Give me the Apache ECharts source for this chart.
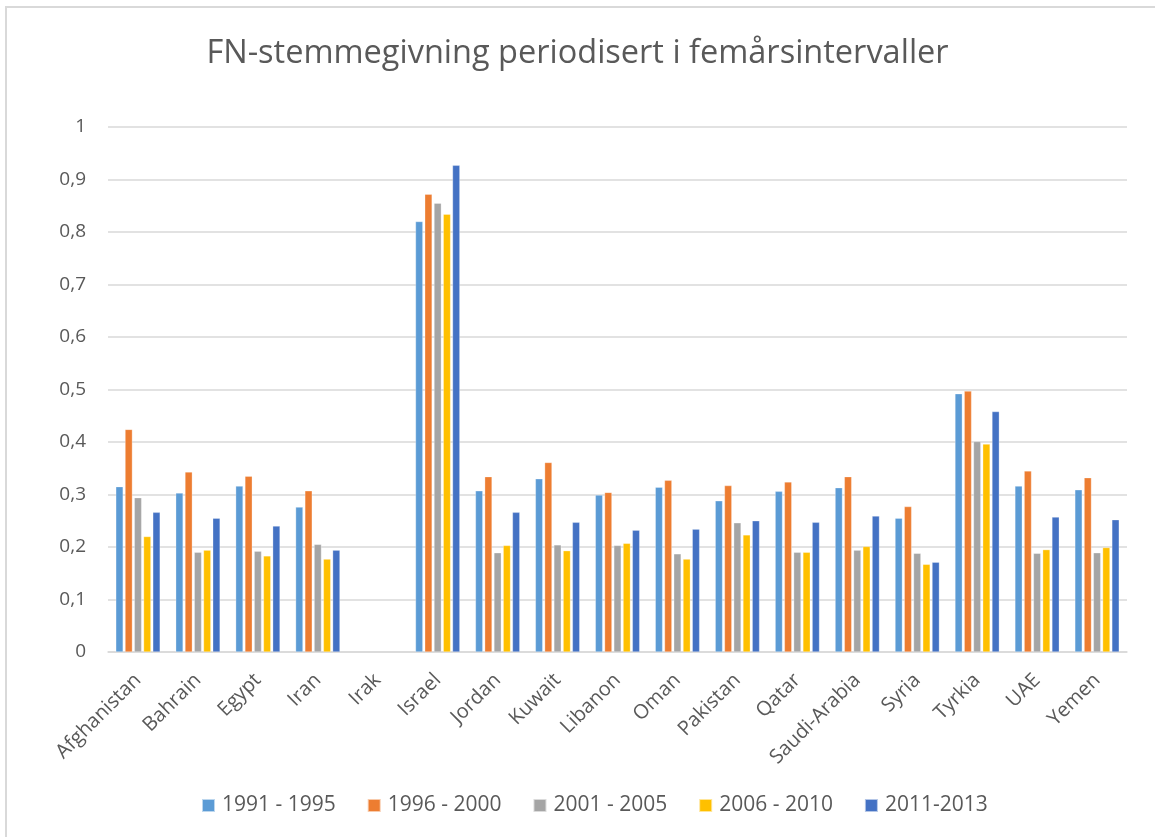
<!DOCTYPE html>
<html>
<head>
<meta charset="utf-8">
<script src="https://cdn.jsdelivr.net/npm/echarts@6/dist/echarts.min.js"></script>
<style>
  html, body { margin: 0; padding: 0; background: #fff; }
  #frame { position: absolute; left: 5px; top: 6px; width: 1160px; height: 840px; border: 2px solid #d9d9d9; }
  #chart { position: absolute; left: 0; top: 0; width: 1155px; height: 837px; }
</style>
</head>
<body>
<div id="frame"></div>
<div id="chart"></div>
<script>
// countries on the x axis
const countries = ['Afghanistan', 'Bahrain', 'Egypt', 'Iran', 'Irak', 'Israel', 'Jordan', 'Kuwait',
  'Libanon', 'Oman', 'Pakistan', 'Qatar', 'Saudi-Arabia', 'Syria', 'Tyrkia', 'UAE', 'Yemen'];

// one array per period (Irak has no data)
const p1991_1995 = [0.315, 0.303, 0.316, 0.276, null, 0.820, 0.307, 0.330, 0.299, 0.314, 0.288, 0.306, 0.313, 0.255, 0.492, 0.316, 0.309];
const p1996_2000 = [0.424, 0.343, 0.335, 0.307, null, 0.872, 0.334, 0.361, 0.304, 0.327, 0.317, 0.324, 0.334, 0.277, 0.497, 0.345, 0.332];
const p2001_2005 = [0.294, 0.190, 0.192, 0.205, null, 0.855, 0.189, 0.204, 0.203, 0.187, 0.246, 0.190, 0.194, 0.188, 0.401, 0.188, 0.189];
const p2006_2010 = [0.220, 0.194, 0.183, 0.177, null, 0.834, 0.203, 0.193, 0.207, 0.177, 0.223, 0.190, 0.201, 0.167, 0.396, 0.195, 0.199];
const p2011_2013 = [0.266, 0.255, 0.240, 0.194, null, 0.927, 0.266, 0.247, 0.232, 0.234, 0.250, 0.247, 0.259, 0.171, 0.458, 0.257, 0.252];

const periodNames = ['1991 - 1995', '1996 - 2000', '2001 - 2005', '2006 - 2010', '2011-2013'];
const periodData = [p1991_1995, p1996_2000, p2001_2005, p2006_2010, p2011_2013];
const colors = ['#5B9BD5', '#ED7D31', '#A5A5A5', '#FFC000', '#4472C4'];

const font = '"Open Sans", sans-serif';
const txt = '#595959';

var chart = echarts.init(document.getElementById('chart'));

var series = periodNames.map(function (name, i) {
  return {
    name: name,
    type: 'bar',
    data: periodData[i],
    barGap: '26%',
    barCategoryGap: '26%',
    itemStyle: { color: colors[i], borderColor: 'rgba(255,255,255,0.6)', borderWidth: 0.5 }
  };
});

chart.setOption({
  animation: false,
  color: colors,
  title: {
    text: 'FN-stemmegivning periodisert i femårsintervaller',
    left: 'center',
    top: 32,
    textStyle: { fontFamily: font, fontSize: 32.5, fontWeight: 'normal', color: txt }
  },
  legend: {
    data: periodNames,
    left: 196,
    top: 790,
    itemWidth: 13,
    itemHeight: 13,
    itemGap: 31,
    icon: 'rect',
    textStyle: { fontFamily: font, fontSize: 21, color: txt, padding: [0, 0, 0, 2] }
  },
  grid: { left: 108, right: 28, top: 127, bottom: 185, containLabel: false },
  xAxis: {
    type: 'category',
    data: countries,
    axisLine: { lineStyle: { color: '#d9d9d9', width: 1.5 } },
    axisTick: { show: false },
    axisLabel: { rotate: 45, margin: 25, fontFamily: font, fontSize: 20, color: txt, interval: 0 }
  },
  yAxis: {
    type: 'value',
    min: 0,
    max: 1,
    interval: 0.1,
    axisLine: { show: false },
    axisTick: { show: false },
    splitLine: { lineStyle: { color: '#d9d9d9', width: 1.5 } },
    axisLabel: {
      margin: 22,
      fontFamily: font,
      fontSize: 19,
      color: txt,
      formatter: function (v) {
        if (v === 0 || v === 1) return String(v);
        return v.toFixed(1).replace('.', ',');
      }
    }
  },
  series: series
});
</script>
</body>
</html>
